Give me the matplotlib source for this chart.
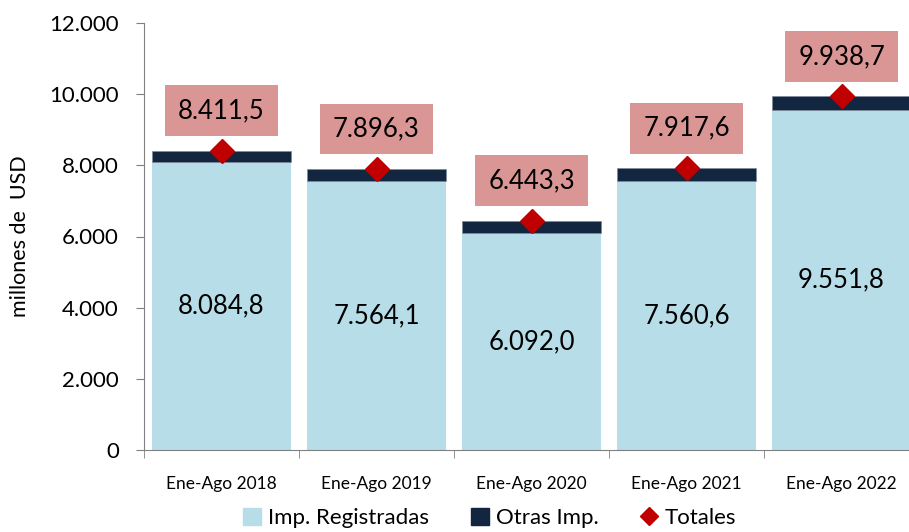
import matplotlib
matplotlib.use("Agg")
import matplotlib.pyplot as plt
from matplotlib.patches import Patch
from matplotlib.lines import Line2D
import numpy as np

################################################################################
# Data
################################################################################
CATEGORIES  = ['Ene-Ago 2018', 'Ene-Ago 2019', 'Ene-Ago 2020', 'Ene-Ago 2021', 'Ene-Ago 2022']
IMP_REG     = [8084.8, 7564.1, 6092.0, 7560.6, 9551.8]
TOTALES     = [8411.5, 7896.3, 6443.3, 7917.6, 9938.7]
OTRAS_IMP   = [t - r for t, r in zip(TOTALES, IMP_REG)]

C_LIGHT = '#B7DDE8'
C_DARK  = '#12263F'
C_RED   = '#C00000'
C_BOX   = '#DA9694'

plt.rcParams['font.family'] = ['Lato', 'DejaVu Sans']


def fmt(v):
    s = f"{v:,.1f}"
    return s.replace(',', 'X').replace('.', ',').replace('X', '.')


################################################################################
# Figure
################################################################################
fig = plt.figure(figsize=(9.09, 5.32), dpi=100)
ax = fig.add_axes([144 / 909, 82 / 532, 775 / 909, 427 / 532])

x = np.arange(len(CATEGORIES))
ax.bar(x, IMP_REG, width=0.9, color=C_LIGHT, zorder=2)
ax.bar(x, OTRAS_IMP, bottom=IMP_REG, width=0.9, color=C_DARK,
       edgecolor='#7F8B99', linewidth=0.5, zorder=2)
ax.plot(x, TOTALES, linestyle='none', marker='D', markersize=12,
        color=C_RED, zorder=4)

for xi, r, t in zip(x, IMP_REG, TOTALES):
    ax.text(xi, r / 2, fmt(r), ha='center', va='center', fontsize=18.5, zorder=5)
    ax.annotate(fmt(t), xy=(xi, t), xytext=(0, 40), textcoords='offset pixels',
                ha='center', va='center', fontsize=18.5, zorder=5,
                bbox=dict(boxstyle='square,pad=0.5', facecolor=C_BOX,
                          edgecolor='none'))

ax.set_xlim(-0.5, 4.5)
ax.set_ylim(0, 12000)
ax.set_yticks(np.arange(0, 12001, 2000))
ax.set_yticklabels([fmt(v)[:-2] if v else '0' for v in np.arange(0, 12001, 2000)])
ax.set_xticks(x)
ax.set_xticklabels(CATEGORIES)
ax.set_xticks(np.arange(-0.5, 5, 1), minor=True)
ax.tick_params(axis='x', which='major', length=0, labelsize=12.5, pad=19)
ax.tick_params(axis='x', which='minor', length=6, color='#808080')
ax.tick_params(axis='y', length=6, color='#808080', labelsize=16, pad=12)
ax.set_ylabel('millones de  USD', fontsize=15.5, labelpad=14)

for side in ['top', 'right']:
    ax.spines[side].set_visible(False)
for side in ['left', 'bottom']:
    ax.spines[side].set_color('#808080')

handles = [Patch(color=C_LIGHT, label='Imp. Registradas'),
           Patch(color=C_DARK, label='Otras Imp.'),
           Line2D([], [], linestyle='none', marker='D', markersize=9,
                  color=C_RED, label='Totales')]
fig.legend(handles=handles, loc='center', bbox_to_anchor=(490 / 909, 14 / 532),
           ncol=3, frameon=False, fontsize=16, handlelength=0.8,
           handleheight=0.8, handletextpad=0.3, columnspacing=1.9)

fig.savefig('out.png', dpi=100)
